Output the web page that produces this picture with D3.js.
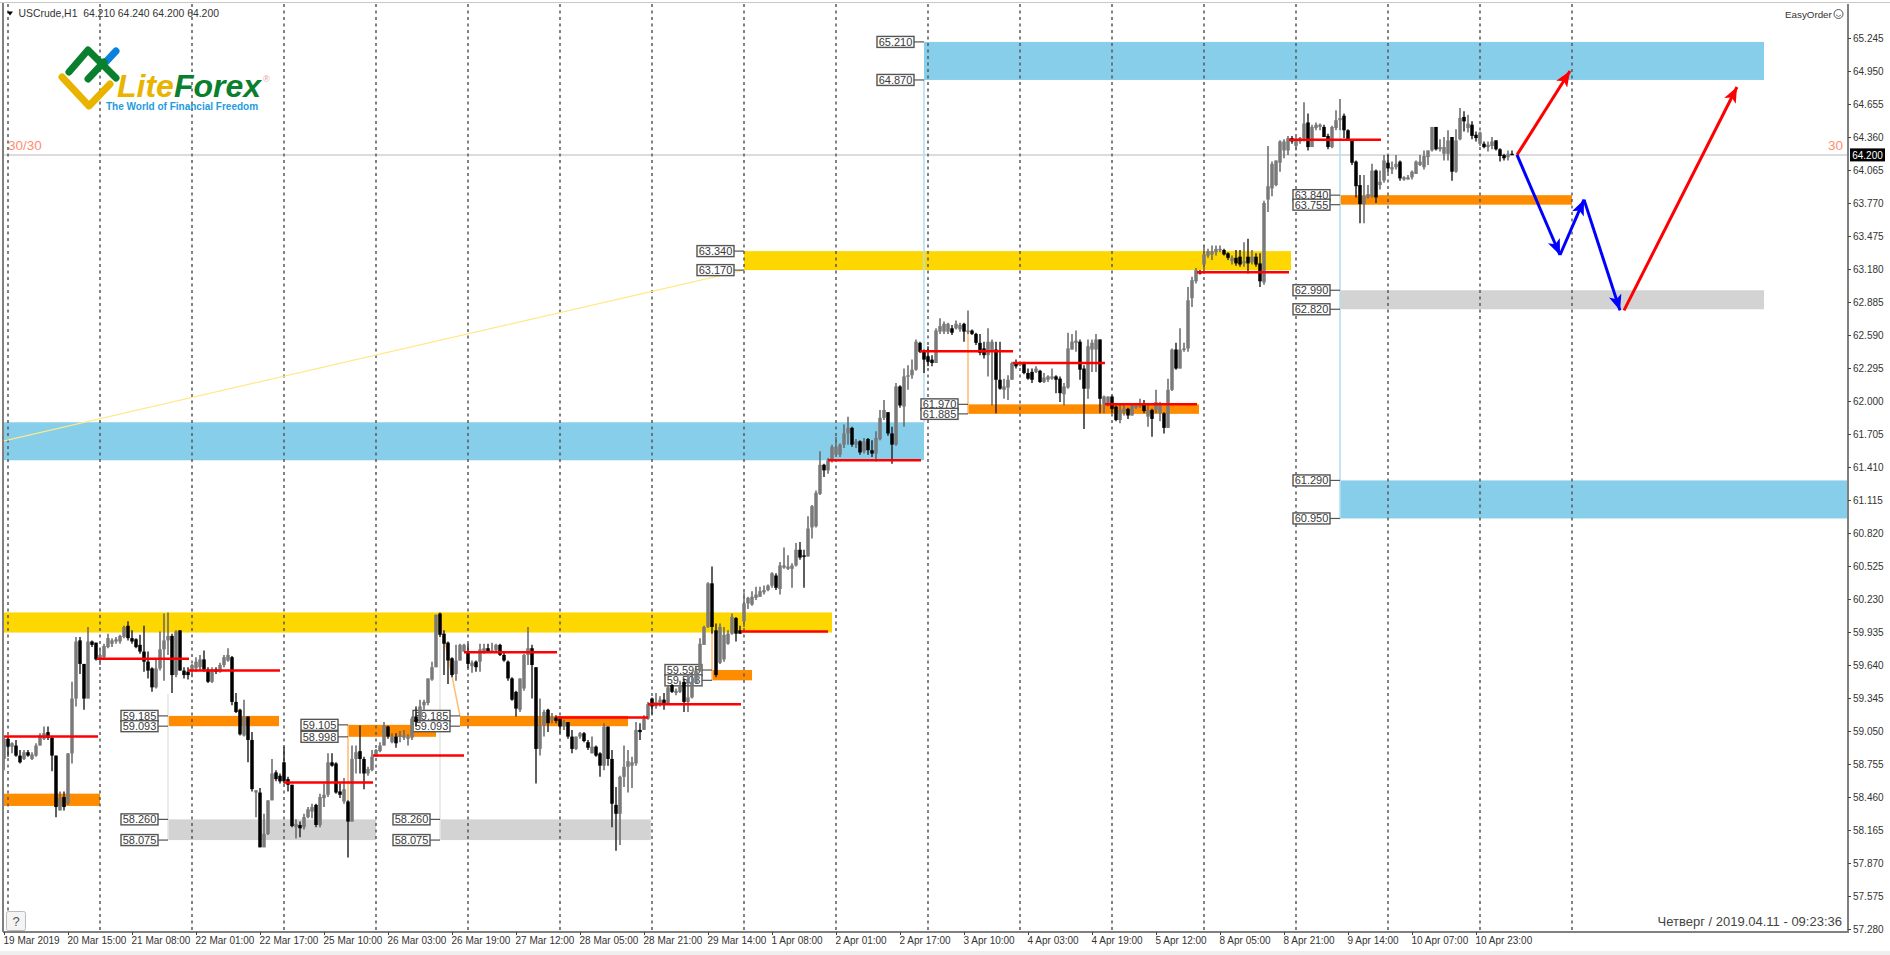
<!DOCTYPE html>
<html><head><meta charset="utf-8"><title>USCrude H1</title>
<script src="https://d3js.org/d3.v7.min.js"></script>
<style>
html,body{margin:0;padding:0;background:#fff;overflow:hidden}
svg{display:block}
text{font-family:"Liberation Sans",Arial,sans-serif}
</style></head><body>
<svg id="chart" width="1890" height="955"></svg>
<script>
const opens=[
58.80,58.98,58.91,58.92,58.83,58.80,58.86,58.80,58.83,58.92,
58.98,59.04,58.99,58.83,58.34,58.46,58.40,58.85,59.34,59.86,
59.65,59.34,59.85,59.84,59.69,59.71,59.80,59.83,59.85,59.85,
59.89,59.99,59.88,59.87,59.82,59.76,59.67,59.61,59.44,59.61,
59.78,59.86,59.90,59.55,59.95,59.59,59.58,59.58,59.61,59.62,
59.69,59.60,59.49,59.60,59.58,59.64,59.68,59.71,59.31,59.24,
59.01,59.18,58.97,58.50,58.50,58.01,58.13,58.43,58.68,58.65,
58.77,58.62,58.57,58.19,58.21,58.19,58.28,58.33,58.39,58.21,
58.45,58.48,58.77,58.76,58.51,58.42,58.42,58.24,58.80,58.87,
58.80,58.67,58.70,58.82,58.87,58.92,59.09,58.95,59.00,59.00,
58.99,58.98,58.99,59.18,59.15,59.28,59.30,59.51,59.62,60.10,
59.92,59.84,59.70,59.56,59.68,59.76,59.76,59.63,59.67,59.67,
59.76,59.79,59.76,59.77,59.82,59.73,59.67,59.52,59.40,59.24,
59.43,59.73,59.79,59.62,58.89,59.10,59.24,59.15,59.17,59.16,
59.09,59.13,59.00,58.89,59.00,59.03,58.95,58.85,58.91,58.85,
58.74,59.09,58.80,58.39,58.31,58.64,58.73,58.74,58.76,59.06,
59.06,59.16,59.34,59.27,59.30,59.33,59.30,59.46,59.39,59.40,
59.49,59.31,59.35,59.48,59.59,59.82,59.98,60.37,59.95,59.66,
59.69,59.83,59.92,60.06,59.95,60.03,60.19,60.18,60.24,60.25,
60.29,60.31,60.35,60.44,60.32,60.51,60.50,60.50,60.53,60.67,
60.62,60.61,60.87,60.88,61.17,61.43,61.38,61.47,61.52,61.52,
61.61,61.71,61.76,61.61,61.64,61.55,61.66,61.56,61.53,61.66,
61.85,61.90,61.71,61.61,62.13,61.95,62.22,62.23,62.28,62.52,
62.44,62.40,62.37,62.34,62.62,62.62,62.62,62.65,62.65,62.64,
62.69,62.62,62.63,62.60,62.52,62.47,62.41,62.44,62.46,62.19,
62.10,62.12,62.19,62.34,62.32,62.34,62.25,62.26,62.26,62.27,
62.17,62.19,62.20,62.22,62.20,62.06,62.12,62.46,62.52,62.53,
62.29,62.11,62.46,62.46,62.55,61.97,61.98,62.04,61.95,61.83,
61.90,61.93,61.87,61.94,61.95,61.98,61.86,61.92,61.92,61.89,
61.89,61.76,62.10,62.46,62.29,62.46,62.47,62.92,63.07,63.16,
63.22,63.30,63.31,63.33,63.35,63.35,63.32,63.25,63.28,63.29,
63.23,63.29,63.24,63.29,63.23,63.06,63.80,63.90,63.93,64.13,
64.24,64.24,64.35,64.28,64.32,64.35,64.49,64.27,64.44,64.45,
64.45,64.37,64.27,64.44,64.51,64.55,64.42,64.33,64.14,63.93,
63.76,63.82,63.83,64.06,63.93,63.97,64.13,64.07,64.09,64.14,
63.98,63.98,64.00,64.03,64.11,64.09,64.18,64.24,64.45,64.25,
64.21,64.21,64.36,64.05,64.34,64.54,64.44,64.47,64.38,64.30,
64.30,64.27,64.28,64.33,64.25,64.20,64.18,64.21];
const highs=[
58.99,59.00,58.95,58.97,58.88,58.88,58.88,58.86,58.94,59.03,
59.09,59.09,59.00,58.83,58.51,58.51,58.85,59.49,59.89,59.89,
59.65,59.98,59.86,59.84,59.79,59.83,59.92,59.88,59.89,59.91,
59.99,60.03,59.95,59.88,59.91,59.99,59.76,59.62,59.70,59.94,
60.10,60.11,59.92,59.95,59.95,59.62,59.62,59.65,59.71,59.73,
59.77,59.62,59.62,59.62,59.66,59.73,59.79,59.72,59.39,59.25,
59.33,59.18,59.04,58.52,58.54,58.31,58.43,58.80,58.70,58.67,
58.91,58.64,58.57,58.26,58.24,58.31,58.37,58.40,58.40,58.49,
58.58,58.85,58.85,58.77,58.58,58.63,58.43,58.92,58.92,59.10,
58.82,58.73,58.88,58.89,58.95,59.13,59.10,59.03,59.03,59.05,
59.06,59.02,59.18,59.27,59.33,59.33,59.52,59.67,60.09,60.11,
59.95,59.85,59.71,59.82,59.83,59.83,59.83,59.68,59.68,59.83,
59.83,59.83,59.84,59.83,59.83,59.75,59.68,59.53,59.41,59.52,
59.74,59.98,59.82,59.62,59.34,59.24,59.25,59.21,59.19,59.18,
59.15,59.13,59.06,59.00,59.04,59.04,58.97,59.00,58.92,58.86,
59.12,59.09,58.88,58.55,58.65,58.92,58.88,58.82,59.13,59.12,
59.19,59.31,59.35,59.39,59.36,59.39,59.46,59.47,59.43,59.50,
59.52,59.56,59.58,59.62,59.88,59.99,60.38,60.52,60.01,60.01,
59.98,59.95,60.10,60.07,59.99,60.29,60.25,60.30,60.34,60.34,
60.35,60.36,60.47,60.46,60.56,60.69,60.62,60.55,60.73,60.74,
60.67,60.97,61.07,61.20,61.55,61.44,61.49,61.61,61.68,61.62,
61.79,61.86,61.77,61.66,61.65,61.67,61.67,61.65,61.73,61.92,
62.01,61.90,61.77,62.16,62.14,62.29,62.32,62.37,62.55,62.53,
62.46,62.49,62.41,62.65,62.74,62.71,62.70,62.68,62.72,62.70,
62.70,62.81,62.64,62.61,62.60,62.53,62.65,62.55,62.53,62.53,
62.20,62.23,62.35,62.37,62.35,62.35,62.29,62.29,62.31,62.28,
62.25,62.23,62.29,62.23,62.22,62.16,62.61,62.60,62.63,62.55,
62.32,62.55,62.55,62.60,62.55,62.05,62.04,62.05,61.96,61.98,
61.97,61.94,61.97,61.98,62.02,62.01,61.98,61.93,62.10,61.99,
61.90,62.20,62.47,62.52,62.65,62.52,63.02,63.11,63.19,63.17,
63.39,63.36,63.39,63.39,63.39,63.36,63.33,63.30,63.35,63.35,
63.42,63.45,63.35,63.32,63.32,63.79,64.28,64.14,64.15,64.33,
64.34,64.37,64.37,64.36,64.36,64.67,64.57,64.47,64.49,64.48,
64.47,64.39,64.46,64.60,64.70,64.57,64.43,64.34,64.15,64.02,
64.02,63.93,64.12,64.07,64.06,64.20,64.20,64.14,64.20,64.15,
64.01,64.02,64.06,64.15,64.20,64.24,64.24,64.45,64.45,64.34,
64.36,64.42,64.36,64.43,64.62,64.59,64.56,64.50,64.41,64.41,
64.32,64.32,64.36,64.33,64.26,64.21,64.24,64.24];
const lows=[
58.70,58.82,58.85,58.82,58.76,58.79,58.82,58.79,58.82,58.92,
58.97,58.97,58.69,58.28,58.34,58.34,58.39,58.76,59.27,59.56,
59.24,59.34,59.80,59.68,59.64,59.70,59.79,59.80,59.83,59.83,
59.88,59.86,59.83,59.79,59.74,59.58,59.52,59.40,59.43,59.59,
59.50,59.73,59.39,59.53,59.59,59.52,59.51,59.53,59.58,59.59,
59.58,59.48,59.48,59.56,59.57,59.62,59.67,59.28,59.21,59.01,
59.00,58.77,58.51,58.28,58.01,58.01,58.12,58.43,58.60,58.58,
58.58,58.51,58.19,58.09,58.10,58.17,58.27,58.27,58.19,58.19,
58.37,58.46,58.73,58.49,58.45,58.40,57.92,58.24,58.67,58.67,
58.53,58.65,58.69,58.82,58.86,58.92,58.98,58.94,58.90,58.95,
58.97,58.92,58.97,59.09,59.12,59.24,59.28,59.50,59.62,59.89,
59.55,59.47,59.53,59.50,59.68,59.76,59.61,59.57,59.58,59.58,
59.74,59.75,59.75,59.75,59.72,59.67,59.50,59.32,59.18,59.22,
59.41,59.64,59.34,58.58,58.83,59.00,59.04,59.12,59.12,59.03,
59.06,58.98,58.85,58.88,58.98,58.95,58.88,58.85,58.82,58.64,
58.70,58.74,58.19,57.98,58.03,58.55,58.50,58.54,58.74,58.97,
59.06,59.15,59.20,59.25,59.27,59.24,59.30,59.39,59.37,59.39,
59.22,59.22,59.34,59.47,59.58,59.82,59.97,59.92,59.53,59.65,
59.67,59.82,59.91,59.85,59.92,59.98,60.14,60.17,60.22,60.25,
60.27,60.30,60.33,60.31,60.27,60.50,60.49,60.33,60.52,60.58,
60.33,60.61,60.77,60.87,61.16,61.32,61.35,61.45,61.50,61.50,
61.58,61.61,61.59,61.58,61.52,61.53,61.52,61.50,61.46,61.65,
61.83,61.69,61.44,61.60,61.94,61.77,62.10,62.20,62.27,62.43,
62.25,62.31,62.31,62.34,62.60,62.60,62.60,62.59,62.64,62.62,
62.53,62.60,62.59,62.50,62.41,62.38,62.22,61.96,61.89,62.10,
62.02,62.01,62.19,62.29,62.31,62.24,62.19,62.16,62.25,62.16,
62.16,62.17,62.19,62.07,61.99,61.96,62.11,62.46,62.44,62.19,
61.75,62.02,62.26,62.26,61.89,61.89,61.95,61.89,61.82,61.80,
61.87,61.84,61.87,61.93,61.94,61.89,61.77,61.68,61.89,61.82,
61.71,61.76,62.09,62.28,62.29,62.44,62.44,62.84,63.05,63.13,
63.14,63.28,63.26,63.30,63.33,63.30,63.26,63.22,63.21,63.20,
63.20,63.14,63.22,63.20,63.02,63.04,63.69,63.83,63.92,64.05,
64.17,64.20,64.30,64.24,64.30,64.32,64.24,64.27,64.42,64.42,
64.36,64.25,64.26,64.42,64.42,64.35,64.33,64.11,63.82,63.59,
63.59,63.81,63.82,63.77,63.89,63.95,64.04,64.03,64.07,63.97,
63.97,63.98,63.98,64.03,64.10,64.07,64.11,64.23,64.24,64.23,
64.15,64.15,63.97,64.04,64.33,64.41,64.40,64.34,64.32,64.28,
64.26,64.23,64.25,64.24,64.14,64.15,64.15,64.20];
const closes=[
58.98,58.91,58.94,58.83,58.77,58.86,58.83,58.84,58.92,59.01,
59.03,58.99,58.83,58.37,58.45,58.37,58.85,59.34,59.85,59.65,
59.34,59.85,59.82,59.69,59.73,59.81,59.88,59.86,59.87,59.90,
59.98,59.88,59.85,59.80,59.76,59.67,59.59,59.44,59.61,59.78,
59.86,59.90,59.55,59.94,59.59,59.55,59.55,59.64,59.67,59.69,
59.60,59.49,59.60,59.58,59.64,59.71,59.73,59.31,59.22,59.02,
59.18,58.97,58.53,58.52,58.01,58.13,58.43,58.67,58.62,58.60,
58.60,58.57,58.20,58.22,58.18,58.28,58.35,58.37,58.21,58.46,
58.48,58.77,58.74,58.50,58.48,58.53,58.24,58.80,58.86,58.80,
58.67,58.71,58.82,58.88,58.92,59.10,59.00,59.00,58.94,59.01,
59.01,59.00,59.16,59.13,59.27,59.31,59.52,59.62,60.09,59.91,
59.83,59.68,59.55,59.68,59.82,59.82,59.65,59.66,59.62,59.78,
59.79,59.76,59.77,59.82,59.73,59.68,59.52,59.33,59.25,59.52,
59.73,59.79,59.64,58.89,59.10,59.22,59.12,59.17,59.14,59.09,
59.13,59.00,58.89,59.00,59.03,58.96,58.90,58.91,58.83,58.74,
59.09,58.80,58.40,58.31,58.64,58.73,58.78,58.77,59.06,59.04,
59.16,59.29,59.27,59.31,59.33,59.30,59.44,59.40,59.41,59.46,
59.31,59.35,59.49,59.59,59.83,59.98,60.37,59.98,59.55,59.98,
59.91,59.92,60.07,59.92,59.92,60.19,60.24,60.25,60.27,60.30,
60.31,60.35,60.46,60.33,60.53,60.53,60.52,60.53,60.67,60.60,
60.61,60.86,61.06,61.18,61.43,61.38,61.47,61.59,61.59,61.61,
61.71,61.76,61.61,61.64,61.54,61.64,61.56,61.53,61.67,61.85,
61.92,61.71,61.61,62.13,61.96,62.22,62.23,62.28,62.53,62.44,
62.37,62.35,62.34,62.63,62.67,62.69,62.69,62.61,62.69,62.68,
62.62,62.63,62.60,62.52,62.43,62.41,62.53,62.53,62.19,62.11,
62.13,62.19,62.34,62.31,62.34,62.25,62.20,62.19,62.29,62.17,
62.21,62.22,62.22,62.19,62.07,62.13,62.47,62.53,62.54,62.28,
62.11,62.49,62.52,62.55,62.02,62.04,62.04,61.93,61.83,61.92,
61.93,61.87,61.96,61.96,61.97,61.91,61.92,61.84,61.99,61.98,
61.76,62.10,62.46,62.29,62.46,62.47,62.90,63.08,63.17,63.14,
63.31,63.34,63.34,63.36,63.36,63.31,63.28,63.28,63.23,63.22,
63.25,63.23,63.29,63.22,63.07,63.77,63.92,64.12,64.15,64.32,
64.32,64.35,64.32,64.33,64.35,64.48,64.27,64.45,64.47,64.47,
64.36,64.27,64.45,64.51,64.53,64.42,64.33,64.13,63.92,63.76,
63.83,63.85,64.06,63.82,63.96,64.15,64.08,64.09,64.12,63.99,
64.00,64.00,64.05,64.14,64.14,64.19,64.24,64.45,64.25,64.27,
64.27,64.33,64.05,64.33,64.53,64.50,64.48,64.37,64.35,64.40,
64.27,64.29,64.32,64.25,64.19,64.17,64.21,64.20];

const timeLabels=["19 Mar 2019","20 Mar 15:00","21 Mar 08:00","22 Mar 01:00","22 Mar 17:00","25 Mar 10:00","26 Mar 03:00","26 Mar 19:00","27 Mar 12:00","28 Mar 05:00","28 Mar 21:00","29 Mar 14:00","1 Apr 08:00","2 Apr 01:00","2 Apr 17:00","3 Apr 10:00","4 Apr 03:00","4 Apr 19:00","5 Apr 12:00","8 Apr 05:00","8 Apr 21:00","9 Apr 14:00","10 Apr 07:00","10 Apr 23:00"];
const priceTicks=[65.245,64.950,64.655,64.360,64.065,63.770,63.475,63.180,62.885,62.590,62.295,62.000,61.705,61.410,61.115,60.820,60.525,60.230,59.935,59.640,59.345,59.050,58.755,58.460,58.165,57.870,57.575,57.280];
const labelEveryBars=16, separatorEveryBars=23, firstSeparatorBar=1, lastSeparatorBar=392;
const lastPrice=64.200;

// zones: kind, first bar, last bar, top price, bottom price
const zones=[
["blue",230,440,65.21,64.87],["blue",-0.5,230,61.81,61.47],["blue",334,465,61.29,60.95],
["yellow",-0.5,207,60.11,59.93],["yellow",185,321.75,63.34,63.17],
["orange",-0.5,24,58.49,58.38],["orange",41,68.75,59.185,59.093],["orange",86,108,59.105,58.998],
["orange",114,156,59.185,59.093],["orange",177,187,59.595,59.503],["orange",241,298.75,61.97,61.885],
["orange",334,392,63.84,63.755],
["gray",41,93,58.26,58.075],["gray",109,161.7,58.26,58.075],["gray",334,440,62.99,62.82]];
// levels: first bar, last bar, price
const levels=[[-0.25,23.5,59.00],[23.25,46.25,59.695],[46,69,59.59],[70,92.25,58.59],[92.25,115,58.83],[115,138.25,59.755],[138.25,161,59.17],[161,184.25,59.29],[184.25,206,59.94],[206,229.25,61.47],[229,252.25,62.445],[252.25,275.25,62.34],[275.25,298.25,61.97],[298.25,321.25,63.15],[321.25,344.25,64.336]];
// price tags: anchor bar, price
const tags=[[41,59.185],[41,59.093],[41,58.26],[41,58.075],[86,59.105],[86,58.998],[114,59.185],[114,59.093],[109,58.26],[109,58.075],[177,59.595],[177,59.503],[185,63.34],[185,63.17],[230,65.21],[230,64.87],[241,61.97],[241,61.885],[334,63.84],[334,63.755],[334,62.99],[334,62.82],[334,61.29],[334,60.95]];
// connector lines: kind, bar a, price a, bar b, price b
const connectors=[
["gray",41,59.38,41,58.075],["gray",109,60.09,109,58.075],
["orange",109,60.07,114,59.185],["orange",86,59.105,86,58.25],["orange",177,59.92,177,59.503],["orange",241,62.63,241,61.885],
["blue",230,64.87,230,61.81],["blue",334,64.53,334,60.95],
["pale",-0.5,61.64,185,63.17]];
// forecast arrows: colour, bar a, price a, bar b, price b
const arrows=[
["red",378.25,64.20,391.5,64.95],["blue",378.25,64.20,389,63.305],["blue",389,63.305,395,63.80],
["blue",395,63.80,404,62.81],["red",405,62.81,433.25,64.807]];

const svg=d3.select("#chart");
const x=d3.scaleLinear().domain([0,377]).range([4,1512]);
const y=d3.scaleLinear().domain([57.28,64.36]).range([929,137]);
const L=3,R=1848,T=4,B=932;
const fills={blue:"#87CEEB",yellow:"#FFD700",orange:"#FF8C00",gray:"#D3D3D3"};
const lineCols={gray:"#E6E6E6",orange:"#FFBE78",blue:"#B5DFF0",pale:"#FFE98A"};

svg.append("defs").append("clipPath").attr("id","plot").append("rect").attr("x",L).attr("y",T).attr("width",R-L).attr("height",B-T);
const defs=svg.select("defs");
["red","blue"].forEach(c=>{
  defs.append("marker").attr("id","head-"+c).attr("viewBox","0 0 12 10").attr("refX",12).attr("refY",5)
    .attr("markerUnits","userSpaceOnUse").attr("markerWidth",16).attr("markerHeight",13).attr("orient","auto")
    .append("path").attr("d","M0,0L12,5L0,10L3,5Z").attr("fill",c==="red"?"#f00":"#00f");
});
const plot=svg.append("g").attr("clip-path","url(#plot)");

plot.append("g").selectAll("rect").data(zones).join("rect")
  .attr("x",d=>x(d[1])).attr("width",d=>x(d[2])-x(d[1]))
  .attr("y",d=>y(d[3])).attr("height",d=>y(d[4])-y(d[3]))
  .attr("fill",d=>fills[d[0]]);

// price line
plot.append("line").attr("x1",L).attr("x2",R).attr("y1",y(lastPrice)).attr("y2",y(lastPrice)).attr("stroke","#DCDCDC").attr("stroke-width",2);

// period separators
const seps=d3.range(firstSeparatorBar,lastSeparatorBar+1,separatorEveryBars);
plot.append("g").selectAll("line").data(seps).join("line")
  .attr("x1",d=>x(d)).attr("x2",d=>x(d)).attr("y1",T).attr("y2",B)
  .attr("stroke","#5a5a5a").attr("stroke-width",1.5).attr("stroke-dasharray","3 3.5");

plot.append("g").selectAll("line").data(connectors).join("line")
  .attr("x1",d=>x(d[1])).attr("y1",d=>y(d[2])).attr("x2",d=>x(d[3])).attr("y2",d=>y(d[4]))
  .attr("stroke",d=>lineCols[d[0]]).attr("stroke-width",d=>d[0]==="pale"?1.2:1.6);

// price tags
const tg=plot.append("g").selectAll("g").data(tags).join("g")
  .attr("transform",d=>`translate(${x(d[0])},${y(d[1])})`);
tg.append("line").attr("x1",-10).attr("x2",0).attr("stroke","#555").attr("stroke-width",1.2);
tg.append("rect").attr("x",-47).attr("y",-5.5).attr("width",37).attr("height",11).attr("fill","#fff").attr("stroke","#555").attr("stroke-width",1.4);
tg.append("text").attr("x",-28.5).attr("y",4).attr("text-anchor","middle").attr("font-size",11).attr("fill","#3a3a3a").text(d=>d3.format(".3f")(d[1]));

// candles
const bars=d3.range(opens.length);
const cg=plot.append("g").selectAll("g").data(bars).join("g");
const colour=i=>closes[i]>=opens[i]?"#7a7a7a":"#000";
cg.append("line").attr("x1",i=>x(i)).attr("x2",i=>x(i)).attr("y1",i=>y(highs[i])).attr("y2",i=>y(lows[i]))
  .attr("stroke",i=>closes[i]>=opens[i]?"#666":"#2a2a2a").attr("stroke-width",1.5);
cg.append("rect").attr("x",i=>x(i)-1.75).attr("width",3.5)
  .attr("y",i=>y(Math.max(opens[i],closes[i])))
  .attr("height",i=>Math.max(1.5,Math.abs(y(opens[i])-y(closes[i]))))
  .attr("fill",colour);

// support/resistance levels
plot.append("g").selectAll("line").data(levels).join("line")
  .attr("x1",d=>x(d[0])).attr("x2",d=>x(d[1])).attr("y1",d=>y(d[2])).attr("y2",d=>y(d[2]))
  .attr("stroke","#f00").attr("stroke-width",2.5);

// forecast arrows
plot.append("g").selectAll("line").data(arrows).join("line")
  .attr("x1",d=>x(d[1])).attr("y1",d=>y(d[2])).attr("x2",d=>x(d[3])).attr("y2",d=>y(d[4]))
  .attr("stroke",d=>d[0]==="red"?"#f00":"#00f").attr("stroke-width",3)
  .attr("marker-end",d=>`url(#head-${d[0]})`);

// frame
svg.append("line").attr("x1",0).attr("x2",1890).attr("y1",2.5).attr("y2",2.5).attr("stroke","#C8C8C8").attr("stroke-width",1);
svg.append("line").attr("x1",L).attr("x2",L).attr("y1",T-1).attr("y2",B).attr("stroke","#808080").attr("stroke-width",2);
svg.append("rect").attr("x",0).attr("y",951).attr("width",1890).attr("height",4).attr("fill","#EFEFEF");

// axes
const yAxis=d3.axisRight(y).tickValues(priceTicks).tickFormat(d3.format(".3f")).tickSize(3).tickPadding(2);
const gy=svg.append("g").attr("transform",`translate(${R},0)`).call(yAxis);
gy.select(".domain").attr("d",`M0,${T}V${B+1}`).attr("stroke","#808080").attr("stroke-width",2);
gy.selectAll(".tick line").attr("stroke","#444");
gy.selectAll("text").attr("font-size",10).attr("fill","#333").attr("font-family","Liberation Sans");

const tickBars=timeLabels.map((d,i)=>i*labelEveryBars);
const xAxis=d3.axisBottom(x).tickValues(tickBars).tickFormat((d,i)=>timeLabels[i]).tickSize(3).tickPadding(2);
const gx=svg.append("g").attr("transform",`translate(0,${B})`).call(xAxis);
gx.select(".domain").attr("d",`M${L},0H${R}`).attr("stroke","#808080").attr("stroke-width",2);
gx.selectAll(".tick line").attr("stroke","#444");
gx.selectAll("text").attr("text-anchor","start").attr("x",-1).attr("font-size",10).attr("fill","#333").attr("font-family","Liberation Sans");

// current price box
svg.append("rect").attr("x",R+2).attr("y",y(lastPrice)-6.5).attr("width",35).attr("height",13).attr("fill","#000");
svg.append("text").attr("x",R+19.5).attr("y",y(lastPrice)+4).attr("text-anchor","middle").attr("font-size",10).attr("fill","#fff").text(d3.format(".3f")(lastPrice));

// header text
svg.append("path").attr("d","M7,11.5H13L10,15.5Z").attr("fill","#000");
svg.append("text").attr("x",18.5).attr("y",17).attr("font-size",10.4).attr("fill","#333").attr("xml:space","preserve").text("USCrude,H1  64.210 64.240 64.200 64.200");
svg.append("text").attr("x",8).attr("y",150).attr("font-size",13.5).attr("fill","#FF8E70").text("30/30");
svg.append("text").attr("x",1843).attr("y",150).attr("text-anchor","end").attr("font-size",13.5).attr("fill","#FF8E70").text("30");
svg.append("text").attr("x",1785).attr("y",18).attr("font-size",9.8).attr("fill","#333").text("EasyOrder");
svg.append("circle").attr("cx",1838.5).attr("cy",14).attr("r",4.5).attr("fill","#fff").attr("stroke","#555");
svg.append("path").attr("d","M1836,15Q1838.5,18 1841,15").attr("fill","none").attr("stroke","#555").attr("stroke-width",.8);
svg.append("text").attr("x",1842).attr("y",926).attr("text-anchor","end").attr("font-size",13).attr("fill","#444").text("Четверг / 2019.04.11 - 09:23:36");

// help button
svg.append("rect").attr("x",6.5).attr("y",911.5).attr("width",19).attr("height",19).attr("rx",2).attr("fill","#F4F4F4").attr("stroke","#BBB");
svg.append("text").attr("x",16).attr("y",926).attr("text-anchor","middle").attr("font-size",13).attr("fill","#555").text("?");

// logo
const lg=svg.append("g").attr("fill","none").attr("stroke-linecap","round").attr("stroke-linejoin","round");
lg.append("path").attr("d","M103,65L116,51").attr("stroke","#0A82DC").attr("stroke-width",7);
lg.append("path").attr("d","M69,72L88,50L116,78").attr("stroke","#0A7F2E").attr("stroke-width",7);
lg.append("path").attr("d","M88,79L104,62").attr("stroke","#0A7F2E").attr("stroke-width",7);
lg.append("path").attr("d","M62,77L89,106L110,84").attr("stroke","#E8B400").attr("stroke-width",7);
const lt=svg.append("text").attr("x",117).attr("y",97).attr("font-size",32).attr("font-weight","bold").attr("font-style","italic");
lt.append("tspan").attr("fill","#E8B400").text("Lite");
lt.append("tspan").attr("fill","#0A7F2E").text("Forex");
svg.append("text").attr("x",263).attr("y",82).attr("font-size",9).attr("fill","#E8A0A0").text("®");
svg.append("text").attr("x",106).attr("y",110).attr("font-size",10).attr("font-weight","bold").attr("fill","#1E9BE0").text("The World of Financial Freedom");
</script>
</body></html>
